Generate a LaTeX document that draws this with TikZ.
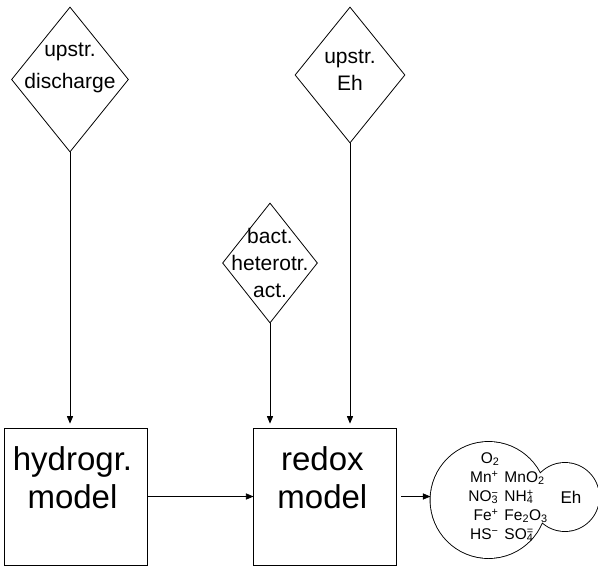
\documentclass[tikz,border=0pt]{standalone}
\usepackage{fontspec}
\setmainfont{Liberation Sans}
\usetikzlibrary{arrows,positioning,shapes.geometric,backgrounds}
\newcommand\chm[2]{\rlap{\textsubscript{#1}}\textsuperscript{#2}}

\begin{document}
\begin{tikzpicture}[x=1pt,y=-1pt,>=triangle 45,
  model/.style={draw,line width=0.9pt,minimum width=143pt,minimum height=137pt,inner sep=0pt},
  modeltext/.style={font=\fontsize{33}{38}\selectfont,align=center,xshift=-3pt,yshift=19pt},
  source/.style={draw,diamond,line width=0.8pt,inner sep=0pt},
  sourcetext/.style={font=\fontsize{21}{27}\selectfont,align=center},
  pool/.style={circle,inner sep=0pt},
  flow/.style={->,line width=0.7pt,shorten >=4pt}]
\useasboundingbox (0,0) rectangle (598,568);
\node[model,label={[modeltext]center:hydrogr.\\model}] (hydro) at (75.5,496.5) {};
\node[model,right=106pt of hydro,label={[modeltext]center:redox\\model}] (redox) {};
\node[source,minimum width=117pt,minimum height=145pt,
  label={[sourcetext,font=\fontsize{21}{32}\selectfont,yshift=12pt]center:upstr.\\discharge}] (dis) at (70,79.5) {};
\node[source,minimum width=110pt,minimum height=136pt,
  label={[sourcetext,yshift=5pt]center:upstr.\\Eh}] (upeh) at (350,75) {};
\node[source,minimum width=95pt,minimum height=120pt,
  label={[sourcetext]center:bact.\\heterotr.\\act.}] (bact) at (270,263) {};
\node[pool,minimum size=116pt,right=33pt of redox,yshift=-3.5pt,
  label={[font=\fontsize{15.5}{19}\selectfont,xshift=19.5pt,yshift=2.5pt]center:{%
  \begin{tabular}{@{}r@{\hspace{6pt}}l@{}}
  \multicolumn{2}{c}{\hspace{-36pt}O\textsubscript{2}}\\
  Mn\textsuperscript{+} & MnO\textsubscript{2}\\
  NO\chm{3}{−} & NH\chm{4}{+}\\
  Fe\textsuperscript{+} & Fe\textsubscript{2}O\textsubscript{3}\\
  HS\textsuperscript{−} & SO\chm{4}{=}
  \end{tabular}}}] (spec) {};
\node[pool,minimum size=68pt,right=-16pt of spec,yshift=3pt,
  label={[font=\fontsize{17}{19}\selectfont,xshift=6pt]center:Eh}] (ehc) {};
% outline of the two pools
\begin{scope}[on background layer]
\draw[line width=1.8pt] (spec.center) circle[radius=58pt] (ehc.center) circle[radius=34pt];
\fill[white] (spec.center) circle[radius=58pt] (ehc.center) circle[radius=34pt];
\end{scope}
\draw[flow] (dis.south) -- (dis.south |- hydro.north);
\draw[flow] (bact.south) -- (bact.south |- redox.north);
\draw[flow] (upeh.south) -- (upeh.south |- redox.north);
\draw[flow,shorten >=0pt] (hydro.east) -- (redox.west);
\draw[flow,shorten >=0pt,shorten <=4pt] (redox.east) -- (redox.east -| spec.west);
\end{tikzpicture}
\end{document}
